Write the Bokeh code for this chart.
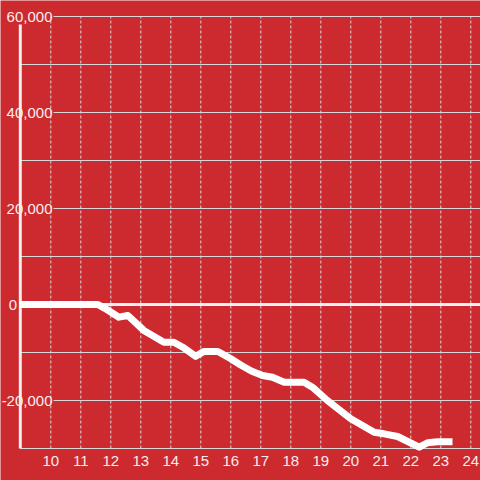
from bokeh.plotting import figure
from bokeh.models import Range1d
from bokeh.core.properties import value
from bokeh.embed import file_html
from bokeh.resources import INLINE

# ---- data (hours of day vs cumulative value) ----
hours = [8.95, 11.57, 11.8, 12.27, 12.57, 13.1, 13.77, 14.1, 14.4, 14.83, 15.1, 15.57,
         16.0, 16.33, 16.7, 17.06, 17.39, 17.78, 18.44, 18.72, 19.22, 20.0, 20.78,
         21.11, 21.56, 22.28, 22.56, 22.89, 23.39]
values = [0, 0, -800, -2640, -2300, -5400, -7850, -7850, -8900, -10800, -9800, -9800,
          -11300, -12600, -13900, -14800, -15140, -16180, -16180, -17220, -20000, -23800,
          -26600, -26940, -27500, -29720, -28800, -28600, -28600]

x_ticks = list(range(10, 25))
x_tick_labels = [str(t) for t in x_ticks]
y_ticks = [-30000, -20000, -10000, 0, 10000, 20000, 30000, 40000, 50000, 60000]
y_labeled = [60000, 40000, 20000, 0, -20000]
y_tick_labels = ["60,000", "40,000", "20,000", "0", "-20,000"]

# ---- style ----
BG = "#cc2a2f"
FG = "#f7eded"
GRID = "#d8d8d8"
FONT = "Liberation Sans"

W = H = 480
OFF = 0
PX_PER_X = 30.0
PX_PER_Y = 48.0 / 10000.0
x0 = 10 - (50.3 - OFF) / PX_PER_X
y1 = 60000 + (16 - OFF) / PX_PER_Y
x_end = x0 + W / PX_PER_X
y_start = y1 - H / PX_PER_Y

p = figure(width=W, height=H, output_backend="svg", toolbar_location=None,
           x_range=Range1d(x0, x_end), y_range=Range1d(y_start, y1),
           min_border=0, min_border_left=0, min_border_right=0,
           min_border_top=0, min_border_bottom=0)
p.axis.visible = False
p.grid.visible = False
p.background_fill_color = BG
p.border_fill_color = BG
p.outline_line_color = None

axis_x = 10 - 30.5 / PX_PER_X
label_gap_x = 10 + (53 - 50.3) / PX_PER_X
top_axis_y = 60000 - (24 - 16) / PX_PER_Y
y_min, y_max = min(y_ticks), max(y_ticks)

# vertical dashed grid
p.segment(x0=x_ticks, x1=x_ticks, y0=[y_min] * len(x_ticks), y1=[y_max] * len(x_ticks),
          line_color=GRID, line_width=1, line_dash="3 2")

# horizontal grid (labelled ones start after label)
hy = [t for t in y_ticks if t != 0]
hx0 = [label_gap_x if t in y_labeled else axis_x for t in hy]
p.segment(x0=hx0, x1=[x_end] * len(hy), y0=hy, y1=hy, line_color=GRID, line_width=1)

# zero line
p.segment(x0=[axis_x], x1=[x_end], y0=[0], y1=[0], line_color="#f4f0f0", line_width=3)

# y axis line
p.segment(x0=[axis_x], x1=[axis_x], y0=[y_min], y1=[top_axis_y], line_color="#f4f0f0", line_width=3)

# data line
p.line(hours, values, line_color="white", line_width=7, line_join="round", line_cap="butt")

# y tick labels
right_anchor = 10 + (52 - 50.3) / PX_PER_X
zero_anchor = 10 - (50.3 - 16.5) / PX_PER_X
ylx = [zero_anchor if len(s) == 1 else right_anchor for s in y_tick_labels]
p.text(x=ylx, y=y_labeled, text=y_tick_labels, text_font=value(FONT),
       text_font_size=value("15px"), text_color=FG, text_align="right",
       text_baseline="middle")

# x tick labels
xl_y = 60000 - (460.5 - 16) / PX_PER_Y
p.text(x=x_ticks, y=[xl_y] * len(x_ticks), text=x_tick_labels, text_font=value(FONT),
       text_font_size=value("15px"), text_color=FG, text_align="center",
       text_baseline="middle")

open("out.html", "w").write(file_html(p, INLINE))
